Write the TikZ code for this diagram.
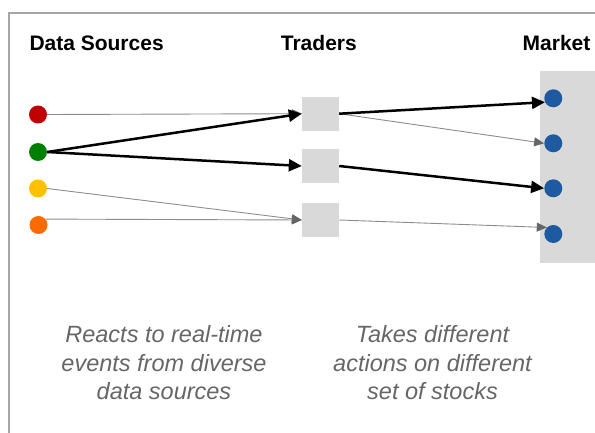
\documentclass[tikz,border=0pt]{standalone}
\usepackage{fontspec}
\setmainfont{Liberation Sans}
\usetikzlibrary{arrows.meta}
\definecolor{framegray}{HTML}{A6A6A6}
\definecolor{boxgray}{HTML}{D9D9D9}
\definecolor{linegray}{HTML}{8C8C8C}
\definecolor{tipgray}{HTML}{666666}
\definecolor{textgray}{HTML}{666666}
\definecolor{dsred}{HTML}{C00000}
\definecolor{dsgreen}{HTML}{008000}
\definecolor{dsyellow}{HTML}{FFC000}
\definecolor{dsorange}{HTML}{FF6A00}
\definecolor{mblue}{HTML}{1E5AA0}
\tikzset{
  dot/.style={circle, minimum size=18pt, inner sep=0pt, draw=none},
  traderbox/.style={rectangle, fill=boxgray, minimum width=37pt, minimum height=34pt, inner sep=0pt},
  header/.style={font=\fontsize{21}{25}\selectfont\bfseries, inner sep=0pt, anchor=base west},
  note/.style={font=\fontsize{23.5}{28.5}\selectfont\itshape, text=textgray, align=center, inner sep=0pt},
  thickarrow/.style={line width=2.5pt, black, -{Triangle[length=13pt,width=12pt]}},
  thinarrow/.style={line width=0.9pt, linegray, -{Triangle[length=10pt,width=9pt,color=tipgray]}}
}
\begin{document}
\begin{tikzpicture}[x=1pt,y=-1pt]
\useasboundingbox (0,0) rectangle (595,433);
\clip (0,0) rectangle (595,433);
% frame
\draw[framegray, line width=2pt] (9,445) -- (9,12.7) -- (610,12.7);
% headers
\node[header] (hds) at (29.3,51) {Data Sources};
\node[header] (htr) at (280.7,51) {Traders};
\node[header] (hmk) at (522.5,51) {Market};
% market panel
\node[fill=boxgray, minimum width=70pt, minimum height=192pt, anchor=north west, inner sep=0pt] (mkt) at (540,71) {};
% data sources
\node[dot, fill=dsred] (s1) at (38,114.5) {};
\node[dot, fill=dsgreen] (s2) at (38,152) {};
\node[dot, fill=dsyellow] (s3) at (38,188.5) {};
\node[dot, fill=dsorange] (s4) at (38.5,225) {};
% traders
\node[traderbox] (b1) at (320.5,113.7) {};
\node[traderbox] (b2) at (320.5,166) {};
\node[traderbox] (b3) at (320.5,220) {};
% market stocks
\node[dot, fill=mblue] (m1) at (553.3,98.3) {};
\node[dot, fill=mblue] (m2) at (553.3,143.3) {};
\node[dot, fill=mblue] (m3) at (553.3,188.3) {};
\node[dot, fill=mblue] (m4) at (553.3,234) {};
% thin connectors
\draw[thinarrow] (s1.east) -- (b1.west);
\draw[thinarrow] (s3.east) -- (b3.west);
\draw[thinarrow] (s4.40) -- (b3.west);
\draw[thinarrow] (b1.east) -- (m2.west);
\draw[thinarrow] (b3.east) -- (m4.135);
% thick connectors
\draw[thickarrow] (s2.east) -- (b1.west);
\draw[thickarrow] (s2.east) -- (b2.west);
\draw[thickarrow] (b1.east) -- (m1.205);
\draw[thickarrow] (b2.east) -- (m3.west);
% notes
\node[note] (n1) at (164,363) {Reacts to real-time\\events from diverse\\data sources};
\node[note] (n2) at (432.5,363) {Takes different\\actions on different\\set of stocks};
\end{tikzpicture}
\end{document}
